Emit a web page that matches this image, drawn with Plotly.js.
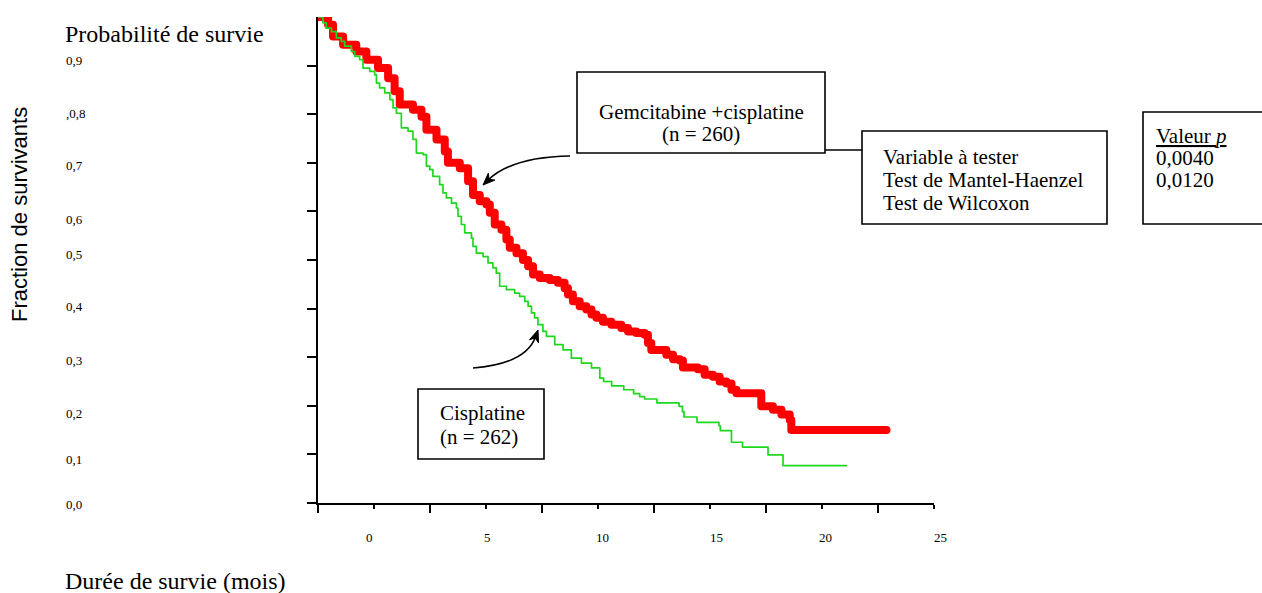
<!DOCTYPE html>
<html><head><meta charset="utf-8">
<script src="https://cdn.plot.ly/plotly-3.0.1.min.js"></script>
<style>html,body{margin:0;padding:0;background:#fff;} #chart{width:1262px;height:593px;}
#chart path.js-line{stroke-linejoin:round;stroke-linecap:round;}</style>
</head><body><div id="chart"></div>
<script>
// ---- data (months, survival fraction) ----
const gemTime = [-2.5,-2.05,-1.83,-1.38,-0.79,-0.34,0.18,0.63,0.92,1.15,1.74,2.12,2.34,2.79,3.16,3.30,3.83,4.20,4.42,4.72,5.02,5.17,5.39,5.69,5.91,6.06,6.36,6.65,6.88,7.10,7.40,7.84,8.21,8.51,8.66,8.88,9.18,9.48,9.71,9.93,10.22,10.60,11.04,11.34,11.71,12.08,12.23,12.38,13.05,13.35,13.65,13.79,14.46,14.76,15.13,15.43,15.73,15.96,16.18,17.29,17.81,18.19,18.56,18.63,22.88];
const gemSurv = [1.0,0.984,0.960,0.943,0.929,0.912,0.895,0.874,0.847,0.820,0.809,0.795,0.768,0.748,0.723,0.700,0.689,0.662,0.634,0.621,0.614,0.597,0.573,0.562,0.542,0.525,0.514,0.500,0.487,0.470,0.463,0.459,0.453,0.442,0.429,0.415,0.405,0.398,0.388,0.381,0.373,0.367,0.360,0.353,0.350,0.346,0.329,0.315,0.305,0.296,0.293,0.279,0.275,0.264,0.260,0.250,0.246,0.233,0.226,0.199,0.192,0.182,0.171,0.150,0.150];
const cisTime = [-2.5,-2.28,-2.13,-1.90,-1.68,-1.46,-1.31,-1.01,-0.86,-0.64,-0.49,-0.19,0.03,0.11,0.25,0.48,0.71,0.85,1.00,1.22,1.52,1.74,1.89,2.19,2.34,2.49,2.63,2.93,3.08,3.23,3.46,3.68,3.75,3.90,4.05,4.35,4.42,4.57,4.87,5.09,5.31,5.46,5.61,5.91,6.28,6.50,6.73,6.88,7.03,7.17,7.32,7.54,7.70,8.07,8.44,8.81,9.26,9.71,10.08,10.25,10.61,11.15,11.59,11.86,12.08,12.63,13.62,13.77,13.84,14.42,15.40,15.46,15.96,16.45,17.59,18.26,21.09];
const cisSurv = [1.0,0.988,0.977,0.970,0.957,0.950,0.940,0.929,0.919,0.912,0.895,0.888,0.881,0.864,0.854,0.844,0.830,0.813,0.802,0.772,0.765,0.748,0.720,0.717,0.693,0.686,0.672,0.655,0.638,0.628,0.617,0.607,0.590,0.573,0.556,0.545,0.528,0.514,0.507,0.494,0.484,0.473,0.446,0.439,0.432,0.425,0.415,0.405,0.391,0.381,0.367,0.353,0.343,0.326,0.315,0.298,0.288,0.278,0.257,0.250,0.241,0.233,0.225,0.219,0.214,0.206,0.199,0.188,0.177,0.166,0.159,0.149,0.125,0.115,0.099,0.077,0.077];

const xTickVals = [0,5,10,15,20,25];
const xTickText = ['0','5','10','15','20','25'];
const yTickVals = [0,0.1,0.2,0.3,0.4,0.5,0.6,0.7,0.8,0.9];
const yTickText = ['0,0','0,1','0,2','0,3','0,4','0,5','0,6','0,7',',0,8','0,9'];

const gemLabel = ['Gemcitabine +cisplatine','(n = 260)'];
const cisLabel = ['Cisplatine','(n = 262)'];
const testLabel = ['Variable à tester','Test de Mantel-Haenzel','Test de Wilcoxon'];
const pLabel = ['<u>Valeur <i>p</i></u>','0,0040','0,0120'];

// ---- layout geometry (pixels) ----
const W=1262,H=593,L=318,R=934,T=17,B=503;
const px = x => (x-L)/(R-L);
const py = y => (B-y)/(B-T);
const SERIF = 'Liberation Serif, Times New Roman, serif';
const SANS = 'Liberation Sans, Arial, sans-serif';

// small nudges of the label positions (pixels) as seen in the picture
const xLabelShift = [-5,1,4,6,3,6];
const yLabelShift = [-1,-5,-8,-3,2,6,-8,-3,1,5];

const traces = [
  {x: gemTime, y: gemSurv, mode:'lines', line:{shape:'hv', color:'#ff0000', width:8}, hoverinfo:'skip'},
  {x: cisTime, y: cisSurv, mode:'lines', line:{shape:'hv', color:'#1ed81e', width:1.7}, hoverinfo:'skip'}
];

const ann = [];
const txt = (text, x, y, xanchor, size, extra) => Object.assign({
  text, xref:'paper', yref:'paper', x:px(x), y:py(y), xanchor, yanchor:'middle',
  showarrow:false, font:{family:SERIF, size, color:'#000'}, borderpad:0
}, extra||{});

xTickVals.forEach((v,i)=>ann.push({text:xTickText[i], xref:'x', yref:'paper', x:v, y:py(537), xshift:xLabelShift[i],
  xanchor:'center', yanchor:'middle', showarrow:false, font:{family:SERIF,size:13,color:'#000'}}));
yTickVals.forEach((v,i)=>ann.push({text:yTickText[i], xref:'paper', yref:'y', x:px(64), y:v, yshift:yLabelShift[i],
  xanchor:'left', yanchor:'middle', showarrow:false, font:{family:SERIF,size:13,color:'#000'}}));

ann.push(txt('Probabilité de survie', 64, 34, 'left', 24));
ann.push(txt('Durée de survie (mois)', 64, 581, 'left', 24));
ann.push(txt('Fraction de survivants', 19, 215, 'center', 22, {textangle:-90, font:{family:SANS,size:22,color:'#000'}}));

ann.push(txt(gemLabel[0], 701, 112, 'center', 21));
ann.push(txt(gemLabel[1], 701, 134, 'center', 21));
ann.push(txt(cisLabel[0], 439, 413, 'left', 21));
ann.push(txt(cisLabel[1], 439, 437, 'left', 21));
[157,180,203].forEach((y,i)=>ann.push(txt(testLabel[i], 882, y, 'left', 21)));
[136,158,180].forEach((y,i)=>ann.push(txt(pLabel[i], 1155, y, 'left', 21)));

const shapes = [];
const rect = (x0,y0,x1,y1)=>shapes.push({type:'rect', xref:'paper', yref:'paper', x0:px(x0), x1:px(x1), y0:py(y1), y1:py(y0), line:{color:'#000', width:1.6}, fillcolor:'rgba(0,0,0,0)'});
rect(577,72,825,153);
rect(862,131,1107,224);
rect(1143,112,1270,224);
rect(418,389,544,459);
shapes.push({type:'line', xref:'paper', yref:'paper', x0:px(825), x1:px(862), y0:py(150), y1:py(150), line:{color:'#000', width:1.6}});

function curvedArrow(sx,sy,cx,cy,tx,ty){
  let dx=tx-cx, dy=ty-cy, len=Math.hypot(dx,dy); const ux=dx/len, uy=dy/len, nx=-uy, ny=ux;
  const Lh=12, wh=4.8;
  const ex=tx-7*ux, ey=ty-7*uy;
  shapes.push({type:'path', xref:'paper', yref:'paper',
    path:`M ${px(sx)},${py(sy)} Q ${px(cx)},${py(cy)} ${px(ex)},${py(ey)}`,
    line:{color:'#000', width:1.6}, fillcolor:'rgba(0,0,0,0)'});
  const bx=tx-Lh*ux, by=ty-Lh*uy, mx=tx-0.7*Lh*ux, my=ty-0.7*Lh*uy;
  shapes.push({type:'path', xref:'paper', yref:'paper',
    path:`M ${px(tx)},${py(ty)} L ${px(bx+wh*nx)},${py(by+wh*ny)} L ${px(mx)},${py(my)} L ${px(bx-wh*nx)},${py(by-wh*ny)} Z`,
    line:{color:'#000', width:1}, fillcolor:'#000'});
}
curvedArrow(570,156,512,157,483,185);
curvedArrow(473,368,526,364,538,330);

const layout = {
  width:W, height:H, margin:{l:L, r:W-R, t:T, b:H-B, pad:0},
  paper_bgcolor:'#fff', plot_bgcolor:'#fff', showlegend:false,
  xaxis:{range:[-2.5,25], showgrid:false, zeroline:false, showline:true, linecolor:'#000', linewidth:2,
    tickmode:'array', tickvals:xTickVals, ticktext:xTickText, showticklabels:false,
    ticks:'outside', ticklen:4, tickwidth:2, tickcolor:'#000',
    minor:{tickmode:'linear', tick0:-2.5, dtick:5, ticks:'outside', ticklen:8, tickwidth:2, tickcolor:'#000', showgrid:false}},
  yaxis:{range:[0,1.0], showgrid:false, zeroline:false, showline:true, linecolor:'#000', linewidth:2,
    tickmode:'array', tickvals:yTickVals, showticklabels:false,
    ticks:'outside', ticklen:9, tickwidth:2, tickcolor:'#000'},
  annotations:ann, shapes:shapes
};
Plotly.newPlot('chart', traces, layout, {staticPlot:true, displayModeBar:false});
</script></body></html>
